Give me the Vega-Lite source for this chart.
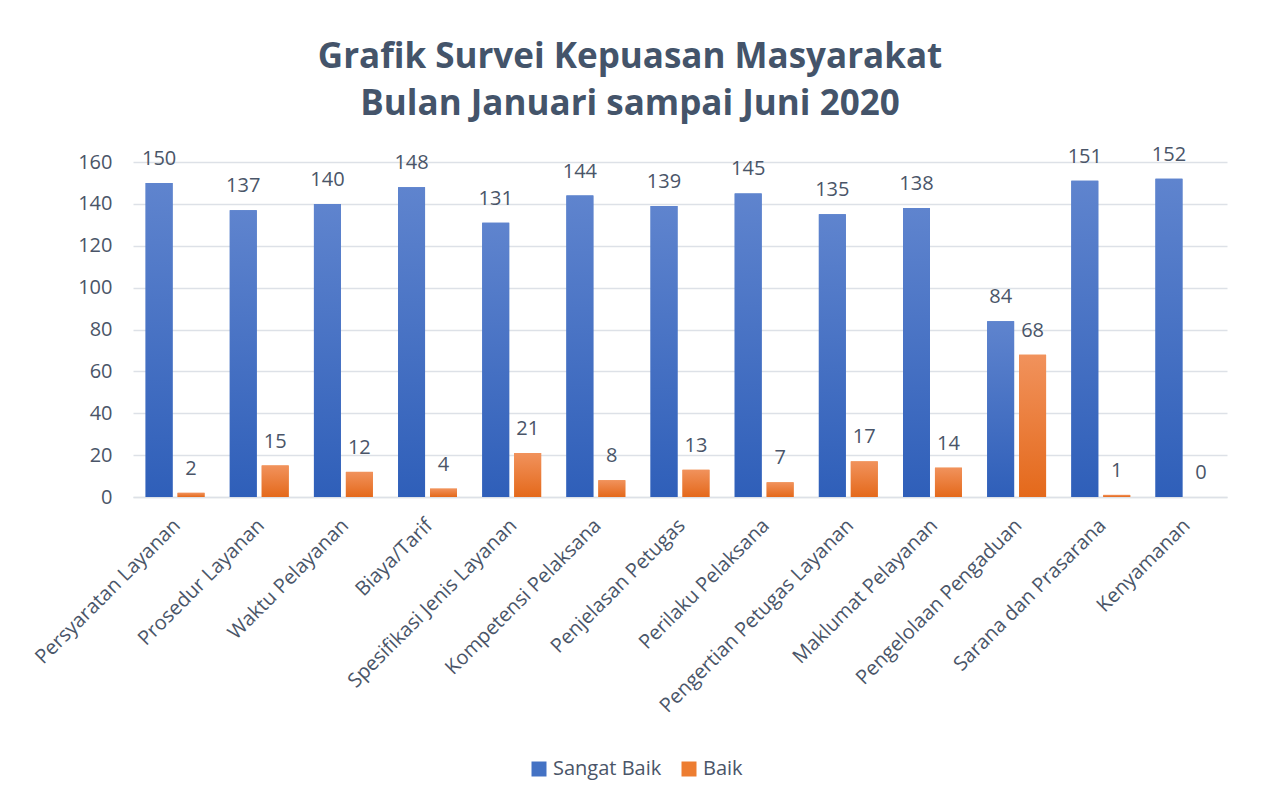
{
  "$schema": "https://vega.github.io/schema/vega-lite/v6.json",
  "width": 1094,
  "height": 335,
  "autosize": {"type": "none"},
  "padding": {"left": 133, "top": 162, "right": 35, "bottom": 304},
  "background": "white",
  "config": {
    "font": "Open Sans",
    "view": {"stroke": null}
  },
  "title": {
    "text": ["Grafik Survei Kepuasan Masyarakat", "Bulan Januari sampai Juni 2020"],
    "font": "Open Sans",
    "fontSize": 35,
    "fontWeight": "bold",
    "color": "#44546A",
    "anchor": "middle",
    "dx": -50,
    "offset": 23,
    "lineHeight": 47
  },
  "data": {
    "values": [
      {"kategori": "Persyaratan Layanan", "seri": "Sangat Baik", "nilai": 150},
      {"kategori": "Persyaratan Layanan", "seri": "Baik", "nilai": 2},
      {"kategori": "Prosedur Layanan", "seri": "Sangat Baik", "nilai": 137},
      {"kategori": "Prosedur Layanan", "seri": "Baik", "nilai": 15},
      {"kategori": "Waktu Pelayanan", "seri": "Sangat Baik", "nilai": 140},
      {"kategori": "Waktu Pelayanan", "seri": "Baik", "nilai": 12},
      {"kategori": "Biaya/Tarif", "seri": "Sangat Baik", "nilai": 148},
      {"kategori": "Biaya/Tarif", "seri": "Baik", "nilai": 4},
      {"kategori": "Spesifikasi Jenis Layanan", "seri": "Sangat Baik", "nilai": 131},
      {"kategori": "Spesifikasi Jenis Layanan", "seri": "Baik", "nilai": 21},
      {"kategori": "Kompetensi Pelaksana", "seri": "Sangat Baik", "nilai": 144},
      {"kategori": "Kompetensi Pelaksana", "seri": "Baik", "nilai": 8},
      {"kategori": "Penjelasan Petugas", "seri": "Sangat Baik", "nilai": 139},
      {"kategori": "Penjelasan Petugas", "seri": "Baik", "nilai": 13},
      {"kategori": "Perilaku Pelaksana", "seri": "Sangat Baik", "nilai": 145},
      {"kategori": "Perilaku Pelaksana", "seri": "Baik", "nilai": 7},
      {"kategori": "Pengertian Petugas Layanan", "seri": "Sangat Baik", "nilai": 135},
      {"kategori": "Pengertian Petugas Layanan", "seri": "Baik", "nilai": 17},
      {"kategori": "Maklumat Pelayanan", "seri": "Sangat Baik", "nilai": 138},
      {"kategori": "Maklumat Pelayanan", "seri": "Baik", "nilai": 14},
      {"kategori": "Pengelolaan Pengaduan", "seri": "Sangat Baik", "nilai": 84},
      {"kategori": "Pengelolaan Pengaduan", "seri": "Baik", "nilai": 68},
      {"kategori": "Sarana dan Prasarana", "seri": "Sangat Baik", "nilai": 151},
      {"kategori": "Sarana dan Prasarana", "seri": "Baik", "nilai": 1},
      {"kategori": "Kenyamanan", "seri": "Sangat Baik", "nilai": 152},
      {"kategori": "Kenyamanan", "seri": "Baik", "nilai": 0}
    ]
  },
  "encoding": {
    "x": {
      "field": "kategori",
      "type": "nominal",
      "sort": null,
      "title": null,
      "scale": {"paddingInner": 0.3, "paddingOuter": 0.15},
      "axis": {
        "labelAngle": -45,
        "labelAlign": "right",
        "labelBaseline": "top",
        "labelFontSize": 20,
        "labelColor": "#4A5568",
        "labelPadding": 18,
        "labelOffset": -5,
        "ticks": false,
        "domainColor": "#DDE1E7",
        "domainWidth": 1.5,
        "labelLimit": 400
      }
    },
    "xOffset": {
      "field": "seri",
      "type": "nominal",
      "sort": ["Sangat Baik", "Baik"],
      "scale": {"domain": ["Sangat Baik", "Baik"], "paddingInner": 0.156, "paddingOuter": 0}
    },
    "y": {
      "field": "nilai",
      "type": "quantitative",
      "title": null,
      "scale": {"domain": [0, 160]},
      "axis": {
        "values": [0, 20, 40, 60, 80, 100, 120, 140, 160],
        "labelFontSize": 20,
        "labelColor": "#4A5568",
        "labelPadding": 21,
        "ticks": false,
        "domain": false,
        "gridColor": "#DDE1E7",
        "gridWidth": 1.5
      }
    }
  },
  "layer": [
    {
      "mark": {"type": "bar"},
      "encoding": {
        "color": {
          "field": "seri",
          "type": "nominal",
          "scale": {"domain": ["Sangat Baik", "Baik"], "range": ["#4472C4", "#ED7D31"]},
          "legend": {
            "title": null,
            "orient": "none",
            "legendX": 396,
            "legendY": 597,
            "direction": "horizontal",
            "symbolType": "square",
            "symbolSize": 225,
            "symbolStrokeWidth": 0,
            "labelFontSize": 20,
            "labelColor": "#4A5568",
            "labelOffset": 4,
            "columnPadding": 17
          }
        }
      }
    },
    {
      "transform": [{"filter": "datum.seri === 'Sangat Baik'"}],
      "mark": {
        "type": "bar",
        "color": {
          "gradient": "linear",
          "x1": 0, "y1": 0, "x2": 0, "y2": 1,
          "stops": [
            {"offset": 0, "color": "#5F84CE"},
            {"offset": 1, "color": "#2F5FB9"}
          ]
        }
      }
    },
    {
      "transform": [{"filter": "datum.seri === 'Baik'"}],
      "mark": {
        "type": "bar",
        "color": {
          "gradient": "linear",
          "x1": 0, "y1": 0, "x2": 0, "y2": 1,
          "stops": [
            {"offset": 0, "color": "#F1925C"},
            {"offset": 1, "color": "#E4691B"}
          ]
        }
      }
    },
    {
      "mark": {"type": "text", "baseline": "alphabetic", "dy": -18, "fontSize": 20, "color": "#4A5568"},
      "encoding": {"text": {"field": "nilai", "type": "quantitative"}}
    }
  ]
}
